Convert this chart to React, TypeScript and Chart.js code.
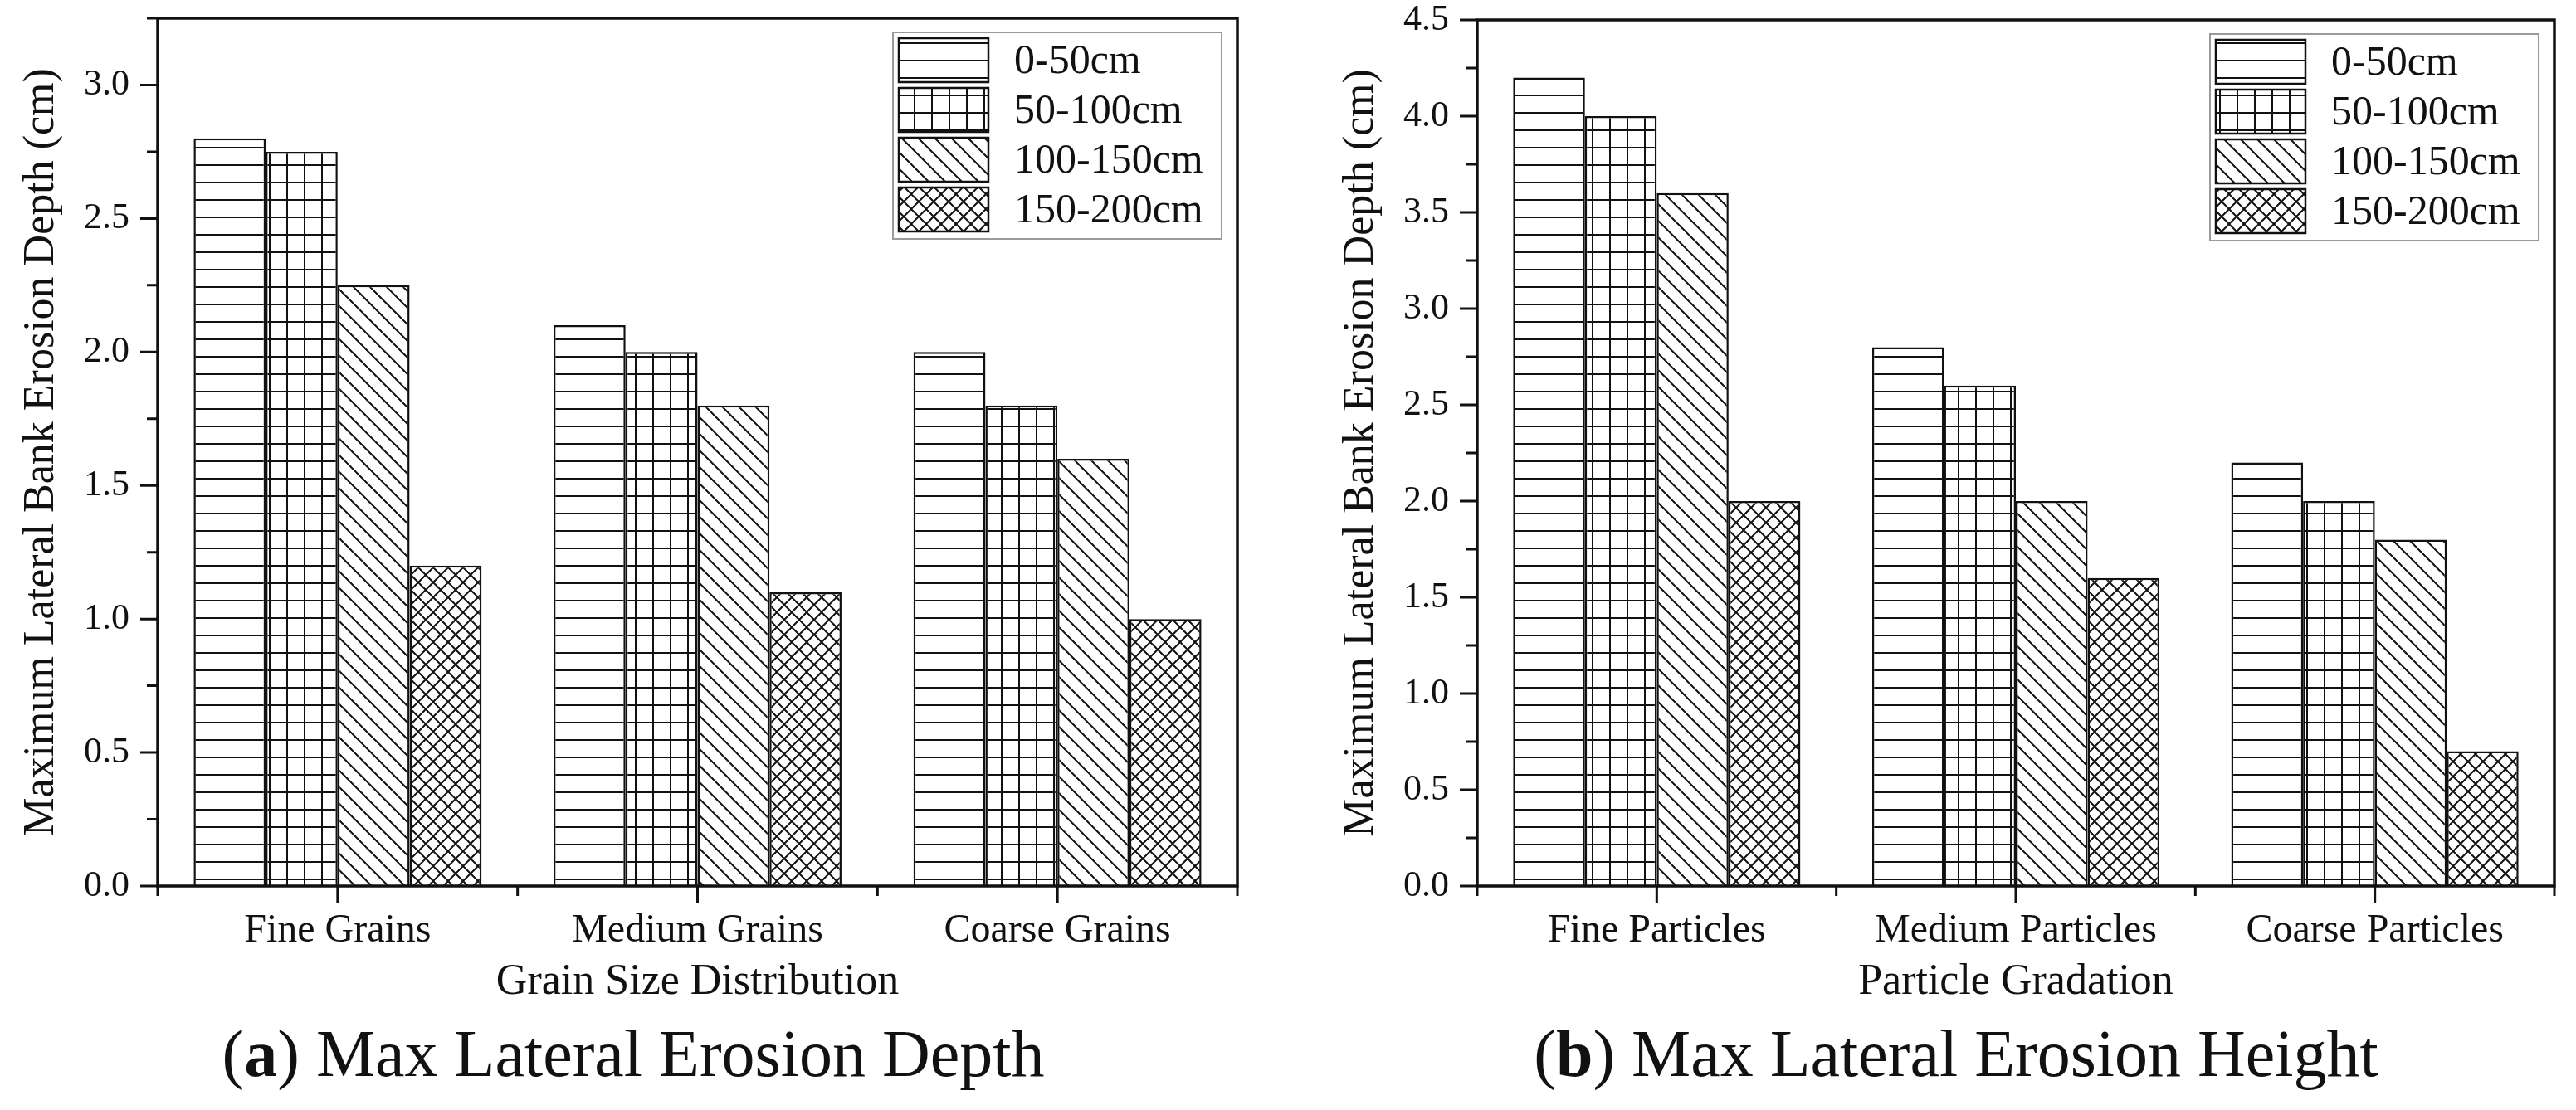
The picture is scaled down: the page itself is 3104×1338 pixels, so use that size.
import React, { useEffect, useRef } from 'react';
import { Chart, registerables } from 'chart.js';

Chart.register(...registerables);

// ---------- data ----------
const seriesLabels = ['0-50cm', '50-100cm', '100-150cm', '150-200cm'];

const categoriesA = ['Fine Grains', 'Medium Grains', 'Coarse Grains'];
const depthA_0_50 = [2.8, 2.1, 2.0];
const depthA_50_100 = [2.75, 2.0, 1.8];
const depthA_100_150 = [2.25, 1.8, 1.6];
const depthA_150_200 = [1.2, 1.1, 1.0];
const yTicksA = [0, 0.5, 1.0, 1.5, 2.0, 2.5, 3.0];

const categoriesB = ['Fine Particles', 'Medium Particles', 'Coarse Particles'];
const heightB_0_50 = [4.2, 2.8, 2.2];
const heightB_50_100 = [4.0, 2.6, 2.0];
const heightB_100_150 = [3.6, 2.0, 1.8];
const heightB_150_200 = [2.0, 1.6, 0.7];
const yTicksB = [0, 0.5, 1.0, 1.5, 2.0, 2.5, 3.0, 3.5, 4.0, 4.5];

const yTitle = 'Maximum Lateral Bank Erosion Depth (cm)';
const xTitleA = 'Grain Size Distribution';
const xTitleB = 'Particle Gradation';

const FONT = '"Liberation Serif", "Times New Roman", serif';
const INK = '#111';

// ---------- patterns ----------
function makePattern(kind: string): CanvasPattern {
  const s = kind === 'cross' ? 18 : kind === 'diag' ? 20 : 21;
  const c = document.createElement('canvas');
  c.width = s;
  c.height = s;
  const g = c.getContext('2d')!;
  g.fillStyle = '#fff';
  g.fillRect(0, 0, s, s);
  g.strokeStyle = INK;
  g.lineWidth = 2;
  g.beginPath();
  const m = Math.floor(s / 2);
  if (kind === 'hline' || kind === 'grid') {
    g.moveTo(0, m);
    g.lineTo(s, m);
  }
  if (kind === 'grid') {
    g.moveTo(m, 0);
    g.lineTo(m, s);
  }
  if (kind === 'diag' || kind === 'cross') {
    for (let k = -1; k <= 1; k++) {
      g.moveTo(k * s - 2, -2);
      g.lineTo(k * s + s + 2, s + 2);
    }
  }
  if (kind === 'cross') {
    for (let k = 0; k <= 2; k++) {
      g.moveTo(k * s + 2, -2);
      g.lineTo(k * s - s - 2, s + 2);
    }
  }
  g.stroke();
  return g.createPattern(c, 'repeat')!;
}

const patternKinds = ['hline', 'grid', 'diag', 'cross'];

// ---------- plugin: frame, ticks, legend ----------
const frameLegendPlugin = {
  id: 'frameLegend',
  afterDraw(chart: any) {
    const { ctx, chartArea: ca, scales } = chart;
    const xs = scales.x;
    const ys = scales.y;
    ctx.save();
    ctx.strokeStyle = INK;
    ctx.lineWidth = 3;
    ctx.beginPath();
    // y ticks (major every 0.5, minor every 0.25)
    for (let i = 0; i * 0.25 <= ys.max + 1e-9; i++) {
      const py = ys.getPixelForValue(i * 0.25);
      const len = i % 2 === 0 ? 21 : 13;
      ctx.moveTo(ca.left, py);
      ctx.lineTo(ca.left - len, py);
    }
    // x ticks
    const n = chart.data.labels.length;
    for (let i = 0; i < n; i++) {
      const px = xs.getPixelForValue(i);
      ctx.moveTo(px, ca.bottom);
      ctx.lineTo(px, ca.bottom + 21);
    }
    for (let i = 0; i <= n; i++) {
      const px = xs.getPixelForValue(i - 0.5);
      ctx.moveTo(px, ca.bottom);
      ctx.lineTo(px, ca.bottom + 12);
    }
    ctx.stroke();
    // frame
    ctx.lineWidth = 3.5;
    ctx.strokeRect(ca.left, ca.top, ca.right - ca.left, ca.bottom - ca.top);

    // legend
    const bw = 396;
    const bh = 249;
    const bx = ca.right - 19 - bw;
    const by = ca.top + 17;
    ctx.fillStyle = '#fff';
    ctx.fillRect(bx, by, bw, bh);
    ctx.lineWidth = 2;
    ctx.strokeStyle = '#9a9a9a';
    ctx.strokeRect(bx, by, bw, bh);
    chart.data.datasets.forEach((ds: any, i: number) => {
      const sx = bx + 7;
      const sy = by + 7 + i * 60;
      ctx.fillStyle = ds.backgroundColor;
      ctx.fillRect(sx, sy, 108, 53);
      ctx.lineWidth = 2.5;
      ctx.strokeStyle = INK;
      ctx.strokeRect(sx, sy, 108, 53);
      ctx.fillStyle = INK;
      ctx.font = `50px ${FONT}`;
      ctx.textBaseline = 'middle';
      ctx.textAlign = 'left';
      ctx.fillText(ds.label, bx + 146, sy + 29);
    });
    ctx.restore();
  },
};

type PanelProps = {
  left: number;
  width: number;
  padLeft: number;
  padRight: number;
  padTop: number;
  categories: string[];
  series: number[][];
  yMax: number;
  yTicks: number[];
  xTitle: string;
};

const CANVAS_H = 1230;
const PLOT_BOTTOM = 1068;

function Panel(props: PanelProps) {
  const ref = useRef<HTMLCanvasElement>(null);
  useEffect(() => {
    const canvas = ref.current!;
    const patterns = patternKinds.map(makePattern);
    const chart = new Chart(canvas, {
      type: 'bar',
      data: {
        labels: props.categories,
        datasets: props.series.map((vals, i) => ({
          label: seriesLabels[i],
          data: vals,
          backgroundColor: patterns[i] as any,
          borderColor: INK,
          borderWidth: 2.5,
          categoryPercentage: 0.8,
          barPercentage: 1.0,
        })),
      },
      options: {
        animation: false,
        responsive: false,
        devicePixelRatio: 1,
        layout: {
          padding: { left: props.padLeft, right: props.padRight, top: props.padTop, bottom: 0 },
        },
        plugins: {
          legend: { display: false },
          tooltip: { enabled: false },
        },
        scales: {
          x: {
            type: 'category',
            offset: true,
            grid: { display: false, drawTicks: false, tickLength: 0 },
            border: { display: false },
            ticks: {
              color: INK,
              font: { family: FONT, size: 48 },
              padding: 26,
              autoSkip: false,
              maxRotation: 0,
              minRotation: 0,
            },
            title: {
              display: true,
              text: props.xTitle,
              color: INK,
              font: { family: FONT, size: 52 },
              padding: { top: 0, bottom: 14 },
            },
            afterFit: (scale: any) => {
              scale.height = CANVAS_H - PLOT_BOTTOM;
              scale.paddingLeft = 0;
              scale.paddingRight = 0;
            },
          },
          y: {
            type: 'linear',
            min: 0,
            max: props.yMax,
            grid: { display: false, drawTicks: false, tickLength: 0 },
            border: { display: false },
            ticks: {
              color: INK,
              font: { family: FONT, size: 44 },
              padding: 34,
              callback: (v: any) => Number(v).toFixed(1),
            },
            afterBuildTicks: (scale: any) => {
              scale.ticks = props.yTicks.map((v) => ({ value: v }));
            },
            title: {
              display: true,
              text: yTitle,
              color: INK,
              font: { family: FONT, size: 52 },
              padding: { top: 19, bottom: 0 },
            },
            afterFit: (scale: any) => {
              scale.width = 190;
              scale.paddingTop = 0;
              scale.paddingBottom = 0;
            },
          },
        },
      } as any,
      plugins: [frameLegendPlugin],
    });
    return () => chart.destroy();
  }, []);
  return (
    <canvas
      ref={ref}
      width={props.width}
      height={CANVAS_H}
      style={{ position: 'absolute', left: props.left, top: 0, width: props.width, height: CANVAS_H }}
    />
  );
}

const captionStyle: React.CSSProperties = {
  position: 'absolute',
  top: 1230,
  width: 1400,
  textAlign: 'center',
  fontFamily: FONT,
  fontSize: 80,
  lineHeight: '80px',
  color: INK,
  whiteSpace: 'nowrap',
};

export default function App() {
  return (
    <div
      style={{
        position: 'absolute',
        left: 0,
        top: 0,
        width: 3104,
        height: 1338,
        background: '#fff',
        overflow: 'hidden',
      }}
    >
      <Panel
        left={0}
        width={1552}
        padLeft={0}
        padRight={61}
        padTop={22}
        categories={categoriesA}
        series={[depthA_0_50, depthA_50_100, depthA_100_150, depthA_150_200]}
        yMax={3.25}
        yTicks={yTicksA}
        xTitle={xTitleA}
      />
      <Panel
        left={1552}
        width={1552}
        padLeft={38}
        padRight={26}
        padTop={24}
        categories={categoriesB}
        series={[heightB_0_50, heightB_50_100, heightB_100_150, heightB_150_200]}
        yMax={4.5}
        yTicks={yTicksB}
        xTitle={xTitleB}
      />
      <div style={{ ...captionStyle, left: 763 - 700 }}>
        (<b>a</b>) Max Lateral Erosion Depth
      </div>
      <div style={{ ...captionStyle, left: 2357 - 700 }}>
        (<b>b</b>) Max Lateral Erosion Height
      </div>
    </div>
  );
}
